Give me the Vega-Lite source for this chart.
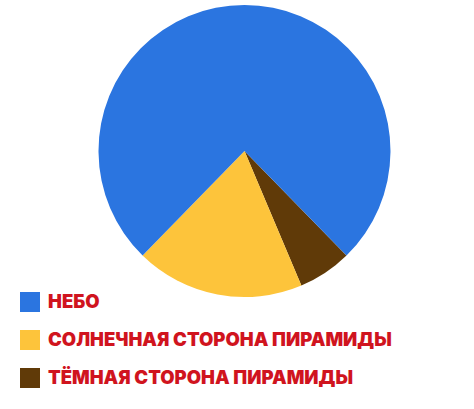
{
  "$schema": "https://vega.github.io/schema/vega-lite/v6.json",
  "autosize": {"type": "none"},
  "width": 459,
  "height": 302,
  "padding": {"left": 15, "top": 0, "right": 0, "bottom": 107},
  "background": "white",
  "data": {
    "values": [
      {"part": "ТЁМНАЯ СТОРОНА ПИРАМИДЫ", "deg": 21.4, "pos": 1},
      {"part": "СОЛНЕЧНАЯ СТОРОНА ПИРАМИДЫ", "deg": 67.2, "pos": 2},
      {"part": "НЕБО", "deg": 271.4, "pos": 3}
    ]
  },
  "mark": {"type": "arc", "radius": 146, "stroke": null},
  "encoding": {
    "theta": {
      "field": "deg",
      "type": "quantitative",
      "stack": true,
      "scale": {"range": [2.368, 8.651]}
    },
    "order": {"field": "pos", "type": "quantitative"},
    "color": {
      "field": "part",
      "type": "nominal",
      "scale": {
        "domain": ["НЕБО", "СОЛНЕЧНАЯ СТОРОНА ПИРАМИДЫ", "ТЁМНАЯ СТОРОНА ПИРАМИДЫ"],
        "range": ["#2b75e0", "#fdc43b", "#603a08"]
      },
      "legend": {
        "title": null,
        "orient": "none",
        "legendX": 5,
        "legendY": 292,
        "padding": 0,
        "symbolType": "square",
        "symbolSize": 400,
        "symbolStrokeWidth": 0,
        "symbolOpacity": 1,
        "labelFont": "Inter",
        "labelFontWeight": 900,
        "labelFontSize": 18.5,
        "labelColor": "#d0141e",
        "labelOffset": 8,
        "labelLimit": 460,
        "rowPadding": 18
      }
    }
  },
  "config": {"view": {"stroke": null}}
}
